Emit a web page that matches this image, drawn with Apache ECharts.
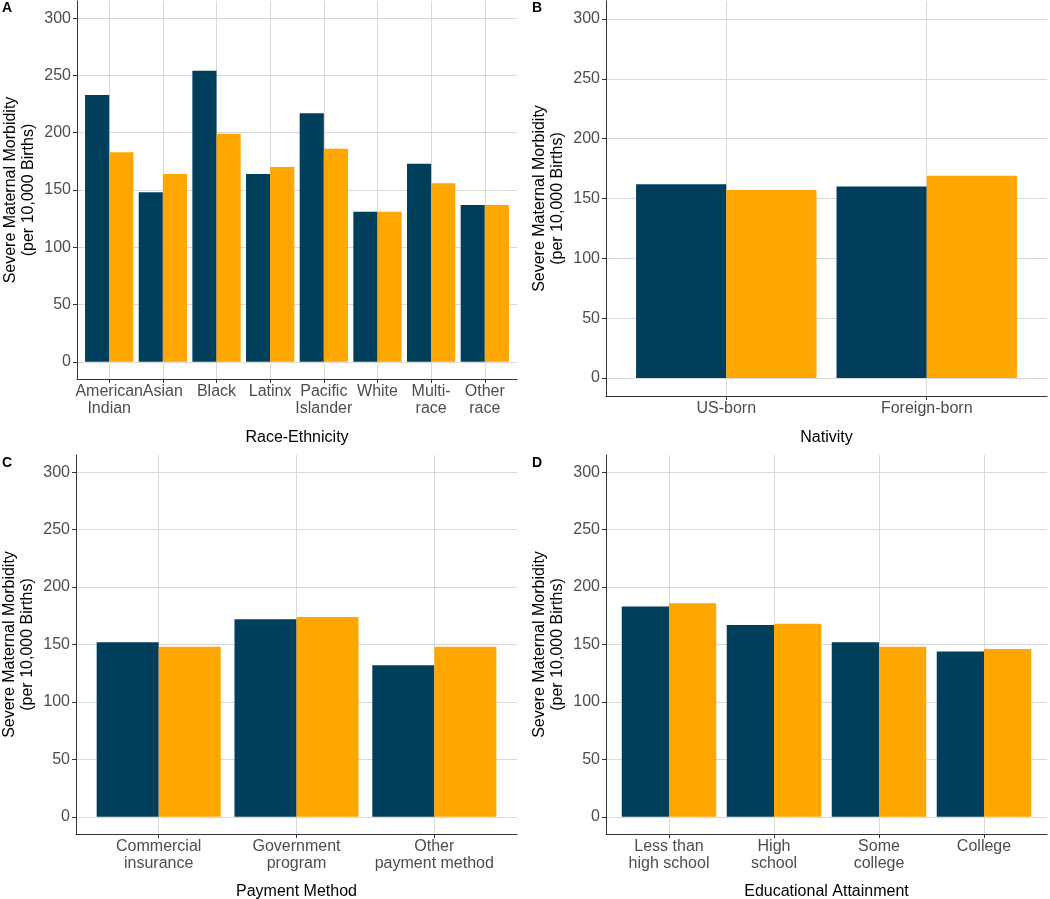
<!DOCTYPE html>
<html><head><meta charset="utf-8">
<script src="https://cdn.jsdelivr.net/npm/echarts@6/dist/echarts.min.js"></script>
<style>html,body{margin:0;padding:0;background:#fff}#c{width:1050px;height:899px}</style>
</head><body><div id="c"></div>
<script>
const raceCategories = ['American\nIndian','Asian','Black','Latinx','Pacific\nIslander','White','Multi-\nrace','Other\nrace'];
const raceDark = [233,148,254,164,217,131,173,137];
const raceOrange = [183,164,199,170,186,131,156,137];
const nativityCategories = ['US-born','Foreign-born'];
const nativityDark = [162,160];
const nativityOrange = [157,169];
const paymentCategories = ['Commercial\ninsurance','Government\nprogram','Other\npayment method'];
const paymentDark = [152,172,132];
const paymentOrange = [148,174,148];
const educationCategories = ['Less than\nhigh school','High\nschool','Some\ncollege','College'];
const educationDark = [183,167,152,144];
const educationOrange = [186,168,148,146];
const yTicks = [0,50,100,150,200,250,300];
const panelLetters = ['A','B','C','D'];
const xTitles = ['Race-Ethnicity','Nativity','Payment Method','Educational Attainment'];
const yTitle = 'Severe Maternal Morbidity\n(per 10,000 Births)';

const FONT = '"Liberation Sans", Arial, sans-serif';
const DARK = '#003f5c', ORANGE = '#ffa600';
const GRIDC = '#d9d9d9', AXC = '#333333';
const Y_MIN = -15, Y_MAX = 315;

const panels = [
  {cats: raceCategories, dark: raceDark, orange: raceOrange, grid:{left:77, top:1, width:440, height:378}, nameGap:51, letter:{left:2, top:1}},
  {cats: nativityCategories, dark: nativityDark, orange: nativityOrange, grid:{left:606, top:1, width:441, height:395}, nameGap:34, letter:{left:532, top:1}},
  {cats: paymentCategories, dark: paymentDark, orange: paymentOrange, grid:{left:76, top:455, width:441, height:379}, nameGap:50, letter:{left:2, top:456}},
  {cats: educationCategories, dark: educationDark, orange: educationOrange, grid:{left:606, top:455, width:441, height:379}, nameGap:50, letter:{left:532, top:456}}
];

const grids = [], xAxes = [], yAxes = [], series = [];
panels.forEach((p, i) => {
  const g = p.grid;
  const n = p.cats.length;
  // outer grid: full panel (y axis, horizontal grid, x axis line)
  grids.push({left: g.left, top: g.top, width: g.width, height: g.height, containLabel: false, outerBoundsMode: 'none'});
  // inner grid: discrete range expanded by 0.6 units each side (ggplot style)
  const pad = g.width * 0.1 / (n + 0.2);
  grids.push({left: g.left + pad, top: g.top, width: g.width - 2 * pad, height: g.height, containLabel: false, outerBoundsMode: 'none'});
  const og = i * 2, ig = i * 2 + 1;
  xAxes.push({
    type: 'value', gridIndex: og, min: 0, max: 1,
    axisLine: {show: true, onZero: false, lineStyle: {color: AXC, width: 1}},
    axisTick: {show: false}, axisLabel: {show: false}, splitLine: {show: false}
  });
  xAxes.push({
    type: 'category', gridIndex: ig, data: p.cats, boundaryGap: true,
    axisLine: {show: false, onZero: false},
    axisTick: {show: true, alignWithLabel: true, length: 4, lineStyle: {color: AXC}},
    axisLabel: {interval: 0, hideOverlap: false, color: '#4d4d4d', fontSize: 16, lineHeight: 17, margin: 4, fontFamily: FONT},
    splitLine: {show: true, alignWithLabel: true, lineStyle: {color: GRIDC, width: 1}},
    name: xTitles[i], nameLocation: 'middle', nameGap: p.nameGap,
    nameTextStyle: {color: '#000', fontSize: 16, fontFamily: FONT}
  });
  yAxes.push({
    type: 'value', gridIndex: og, min: Y_MIN, max: Y_MAX,
    axisLine: {show: true, lineStyle: {color: AXC, width: 1}},
    axisTick: {show: true, length: 4, customValues: yTicks, lineStyle: {color: AXC}},
    axisLabel: {customValues: yTicks, color: '#4d4d4d', fontSize: 16, margin: 6, fontFamily: FONT},
    splitLine: {show: true, lineStyle: {color: GRIDC, width: 1}},
    name: yTitle, nameLocation: 'middle', nameRotate: 90, nameGap: 39,
    nameTextStyle: {color: '#000', fontSize: 16, lineHeight: 18, fontFamily: FONT}
  });
  yAxes.push({type: 'value', gridIndex: ig, min: Y_MIN, max: Y_MAX, show: false});
  series.push(
    {type: 'bar', name: 'Dark', xAxisIndex: ig, yAxisIndex: ig, data: p.dark, barGap: '0%', barCategoryGap: '10%', itemStyle: {color: DARK}},
    {type: 'bar', name: 'Orange', xAxisIndex: ig, yAxisIndex: ig, data: p.orange, barGap: '0%', barCategoryGap: '10%', itemStyle: {color: ORANGE}}
  );
});

const option = {
  backgroundColor: '#ffffff',
  animation: false,
  title: panels.map((p, i) => ({
    text: panelLetters[i], left: p.letter.left, top: p.letter.top, padding: 0,
    textStyle: {fontSize: 14, fontWeight: 'bold', color: '#000', fontFamily: FONT}
  })),
  grid: grids, xAxis: xAxes, yAxis: yAxes, series: series
};
const chart = echarts.init(document.getElementById('c'), null, {renderer: 'canvas'});
chart.setOption(option);
</script>
</body></html>
